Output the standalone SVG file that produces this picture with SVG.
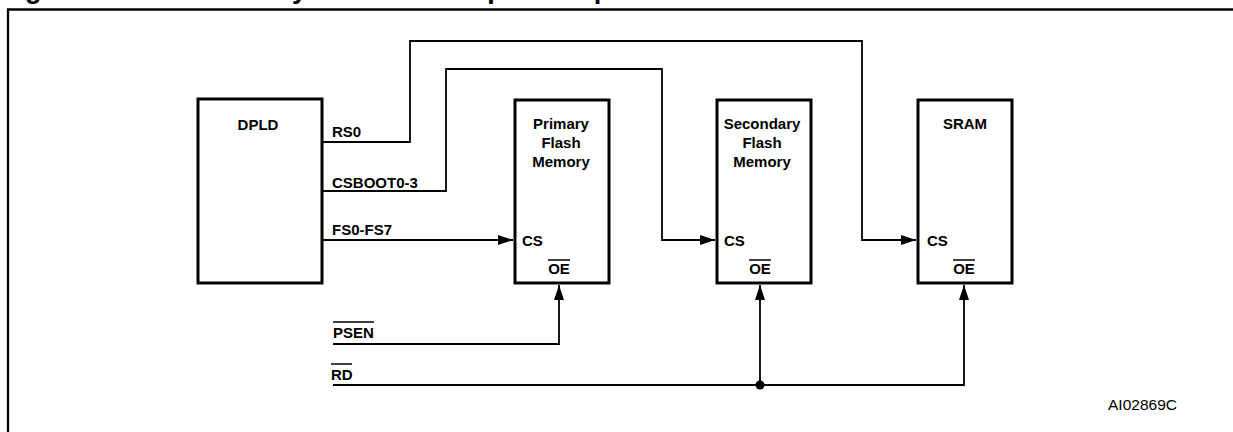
<svg xmlns="http://www.w3.org/2000/svg" width="1233" height="432" viewBox="0 0 1233 432">
<defs>
<style>
.box{fill:#fff;stroke:#000;stroke-width:3}
.wire{fill:none;stroke:#000;stroke-width:1.8}
.lbl{font-family:"Liberation Sans",Arial,sans-serif;font-weight:bold;font-size:15px;fill:#000}
.mid{text-anchor:middle}
.ovl{stroke:#000;stroke-width:1.5}
</style>
<marker id="ah" viewBox="0 0 15 10" refX="15" refY="5" markerWidth="15" markerHeight="10" markerUnits="userSpaceOnUse" orient="auto">
<path d="M0,0 L15,5 L0,10 Z" fill="#000"/>
</marker>
</defs>
<rect width="1233" height="432" fill="#fff"/>
<text x="1" y="-2" font-family="'Liberation Sans',Arial,sans-serif" font-weight="bold" font-size="27">Figure 14. 8031 Memory Modules – Separate Space</text>
<path d="M8,432 V9.5 H1233" fill="none" stroke="#000" stroke-width="2.3"/>

<g id="dpld">
<rect class="box" x="198" y="99" width="124" height="184"/>
<text class="lbl mid" x="258" y="130">DPLD</text>
</g>
<g id="primary">
<rect class="box" x="515" y="100" width="94" height="183"/>
<text class="lbl mid" x="561" y="129">Primary</text>
<text class="lbl mid" x="561" y="148">Flash</text>
<text class="lbl mid" x="561" y="167">Memory</text>
<text class="lbl" x="522" y="246">CS</text>
<text class="lbl mid" x="559" y="274">OE</text>
<line class="ovl" x1="548" y1="260" x2="570" y2="260"/>
</g>
<g id="secondary">
<rect class="box" x="717" y="100" width="94" height="183"/>
<text class="lbl mid" x="762" y="129">Secondary</text>
<text class="lbl mid" x="762" y="148">Flash</text>
<text class="lbl mid" x="762" y="167">Memory</text>
<text class="lbl" x="724" y="246">CS</text>
<text class="lbl mid" x="760" y="274">OE</text>
<line class="ovl" x1="749" y1="260" x2="771" y2="260"/>
</g>
<g id="sram">
<rect class="box" x="918" y="100" width="94" height="183"/>
<text class="lbl mid" x="965" y="129">SRAM</text>
<text class="lbl" x="927" y="246">CS</text>
<text class="lbl mid" x="964" y="274">OE</text>
<line class="ovl" x1="953" y1="260" x2="975" y2="260"/>
</g>

<g id="connectors">
<path class="wire" d="M322,142 H410 V41 H862 V240 H916" marker-end="url(#ah)"/>
<path class="wire" d="M322,191 H446 V69 H662 V240 H715" marker-end="url(#ah)"/>
<path class="wire" d="M322,240 H513" marker-end="url(#ah)"/>
<path class="wire" d="M333,344 H559 V285" marker-end="url(#ah)"/>
<path class="wire" d="M333,385 H964 V285" marker-end="url(#ah)"/>
<path class="wire" d="M760,385 V285" marker-end="url(#ah)"/>
<circle cx="760" cy="385" r="4.5" fill="#000"/>
</g>

<g id="labels">
<text class="lbl" x="332" y="137">RS0</text>
<text class="lbl" x="332" y="188">CSBOOT0-3</text>
<text class="lbl" x="332" y="235">FS0-FS7</text>
<text class="lbl" x="333" y="338">PSEN</text>
<line class="ovl" x1="333" y1="322" x2="374" y2="322"/>
<text class="lbl" x="331" y="380">RD</text>
<line class="ovl" x1="331" y1="364" x2="352" y2="364"/>
<text x="1108" y="410" font-family="'Liberation Sans',Arial,sans-serif" font-size="15.5" fill="#000">AI02869C</text>
</g>
</svg>
